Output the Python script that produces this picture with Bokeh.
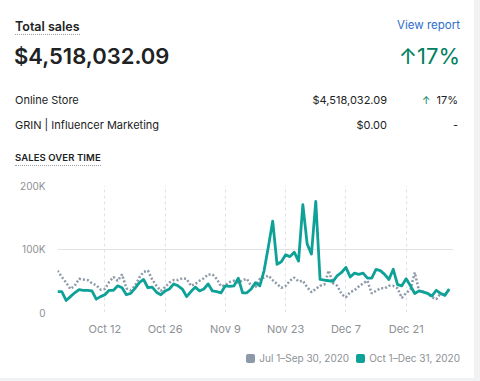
import pandas as pd
from bokeh.plotting import figure
from bokeh.layouts import column
from bokeh.models import Range1d, FixedTicker, Div
from bokeh.embed import file_html
from bokeh.resources import INLINE

# ---------------- data ----------------
start_date = "2020-10-01"
# Oct 1 - Dec 31, 2020 (daily sales, thousands)
current_sales = [33, 33, 19, 25, 31, 36, 35, 35, 34, 21,
                 25, 28, 35, 35, 42, 39, 28, 30, 38, 47,
                 52, 39, 40, 32, 28, 34, 37, 45, 42, 37,
                 25, 33, 40, 34, 37, 45, 34, 33, 31, 42,
                 41, 42, 54, 31, 31, 37, 47, 42, 66, 104,
                 144, 76, 80, 91, 88, 95, 81, 170, 108, 92,
                 175, 52, 51, 50, 49, 58, 63, 71, 56, 62,
                 60, 62, 54, 54, 68, 66, 60, 52, 68, 44,
                 42, 53, 42, 30, 34, 32, 30, 26, 35, 30,
                 27, 37]
# Jul 1 - Sep 30, 2020 (daily sales, thousands)
previous_sales = [66, 56, 47, 37, 42, 53, 52, 51, 46, 43,
                  36, 37, 48, 56, 50, 60, 38, 35, 42, 55,
                  64, 66, 52, 42, 34, 40, 47, 51, 51, 54,
                  53, 42, 45, 50, 54, 60, 60, 53, 41, 43,
                  48, 50, 47, 51, 53, 42, 40, 53, 55, 58,
                  51, 45, 39, 42, 50, 55, 49, 50, 40, 32,
                  37, 42, 44, 66, 46, 42, 29, 24, 32, 35,
                  41, 46, 50, 30, 34, 38, 38, 42, 42, 38,
                  23, 31, 36, 63, 34, 33, 30, 24, 21, 30,
                  28, 36]
unit = 1000
x_tick_labels = ["Oct 12", "Oct 26", "Nov 9", "Nov 23", "Dec 7", "Dec 21"]
y_ticks = [0, 100000, 200000]
y_tick_labels = ["0", "100K", "200K"]
legend_labels = ["Jul 1\u2013Sep 30, 2020", "Oct 1\u2013Dec 31, 2020"]
total_sales = "$4,518,032.09"
total_change = "17%"
channels = ["Online Store", "GRIN | Influencer Marketing"]
channel_values = ["$4,518,032.09", "$0.00"]
channel_changes = ["17%", "-"]

# ---------------- derived ----------------
day = list(range(len(current_sales)))
cur = [v * unit for v in current_sales]
prev = [v * unit for v in previous_sales]
t0 = pd.Timestamp(start_date)
tick_days = [(pd.Timestamp(f"{lbl} 2020") - t0).days for lbl in x_tick_labels]

TEAL = "#0ea197"
GREY_LINE = "#8d99a8"
TEXT = "#202223"
SUB = "#8c9196"
GREEN = "#008060"
FONT = "Inter"
CARD_W = 474
HEAD_H = 170


# ---------------- header (HTML text) ----------------
def span(text, X, Y, size, color=TEXT, weight=400, align="left", extra=""):
    top = Y - size / 2
    pos = f"left:{X}px;" if align == "left" else f"right:{CARD_W - X}px;"
    return (f'<span style="position:absolute;{pos}top:{top}px;font-size:{size}px;'
            f'line-height:1;color:{color};font-weight:{weight};white-space:nowrap;{extra}">'
            f'{text}</span>')


dotted = "border-bottom:1px dotted #9aa0a6;"
parts = [
    span("Total sales", 15, 27, 12.5, weight=600, extra=dotted + "padding-bottom:1px;"),
    span("View report", 460, 26, 11.5, color="#2c6ecb", align="right"),
    span(total_sales, 14, 56, 22, weight=600),
    span("\u2191" + total_change, 460, 56, 22, color=GREEN, align="right"),
]
for name, val, chg, y in zip(channels, channel_values, channel_changes, [100, 125]):
    parts.append(span(name, 15, y, 11))
    parts.append(span(val, 387, y, 11, align="right"))
    if chg != "-":
        parts.append(span(f'<span style="color:{GREEN};font-size:10px">\u2191</span>&nbsp;&nbsp;{chg}',
                          458, y, 11, align="right"))
    else:
        parts.append(span(chg, 458, y, 11, align="right"))
parts.append(span("SALES OVER TIME", 15, 158, 9.5, weight=600,
                  extra=dotted + "padding-bottom:2px;letter-spacing:0.1px;"))

header_html = (f'<div style="position:relative;width:{CARD_W}px;height:{HEAD_H}px;'
               f'font-family:{FONT};background:white;">' + "".join(parts) + "</div>")
header = Div(text=header_html, width=CARD_W, height=HEAD_H, margin=0,
             styles={"background-color": "white"})

# ---------------- chart ----------------
p = figure(width=CARD_W, height=170, output_backend="svg", toolbar_location=None,
           x_range=Range1d(0, 92), y_range=Range1d(0, 200000),
           min_border_left=57, min_border_right=21, min_border_top=15,
           min_border_bottom=28)
p.outline_line_color = None
p.background_fill_color = "white"
p.border_fill_color = "white"

p.xaxis.ticker = FixedTicker(ticks=tick_days)
p.xaxis.major_label_overrides = {d: l for d, l in zip(tick_days, x_tick_labels)}
p.yaxis.ticker = FixedTicker(ticks=y_ticks)
p.yaxis.major_label_overrides = {t: l for t, l in zip(y_ticks, y_tick_labels)}
for ax in (p.xaxis, p.yaxis):
    ax.axis_line_color = None
    ax.major_tick_line_color = None
    ax.minor_tick_line_color = None
    ax.major_tick_out = 0
    ax.major_tick_in = 0
    ax.major_label_text_color = SUB
    ax.major_label_text_font = FONT
    ax.major_label_text_font_size = "11px"
p.xaxis.major_label_standoff = 9
p.yaxis.major_label_standoff = 12
p.yaxis.major_label_text_font_size = "10px"

p.xgrid.grid_line_color = "#dfe3e8"
p.xgrid.grid_line_dash = "3 3"
p.ygrid.grid_line_color = "#e1e3e5"

p.line(day, prev, line_color=GREY_LINE, line_width=2.5, line_dash="2 2")
p.line(day, cur, line_color=TEAL, line_width=2.8, line_join="round")

# ---------------- legend strip (HTML) ----------------
LEG_H = 38
swatch_colors = [GREY_LINE, TEAL]
items = "".join(
    f'<span style="display:inline-flex;align-items:center;margin-left:7px;">'
    f'<span style="display:inline-block;width:9px;height:9px;border-radius:2px;'
    f'background:{c};margin-right:4px;"></span>{lbl}</span>'
    for c, lbl in zip(swatch_colors, legend_labels))
legend_html = (f'<div style="position:relative;width:{CARD_W}px;height:{LEG_H}px;'
               f'font-family:{FONT};background:white;">'
               f'<div style="position:absolute;right:14px;top:12px;height:12px;display:flex;'
               f'align-items:center;font-size:10px;line-height:1;color:{SUB};'
               f'white-space:nowrap;">{items}</div></div>')
leg = Div(text=legend_html, width=CARD_W, height=LEG_H, margin=0,
          styles={"background-color": "white"})

page_bg = ("linear-gradient(to bottom, rgba(241,242,243,0) 378px, #f1f2f3 378px), "
           "linear-gradient(to right, #ffffff 474px, #f1f2f3 474px)")
layout = column(header, p, leg, width=480, height=381, spacing=0,
                styles={"background": page_bg})

open("out.html", "w").write(file_html(layout, INLINE))
